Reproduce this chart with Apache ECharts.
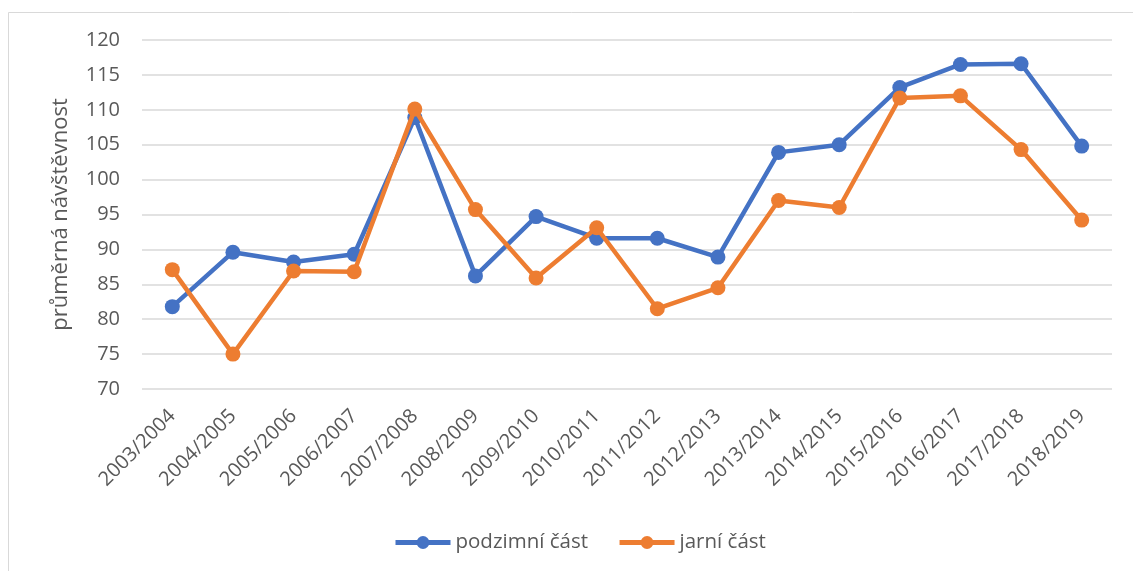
<!DOCTYPE html>
<html>
<head>
<meta charset="utf-8">
<script src="https://cdn.jsdelivr.net/npm/echarts@6/dist/echarts.min.js"></script>
<style>
  html, body { margin: 0; padding: 0; background: #fff; }
  #chart { width: 1133px; height: 571px; }
</style>
</head>
<body>
<div id="chart"></div>
<script>
// sezóny
var seasons = ['2003/2004', '2004/2005', '2005/2006', '2006/2007', '2007/2008', '2008/2009',
    '2009/2010', '2010/2011', '2011/2012', '2012/2013', '2013/2014', '2014/2015',
    '2015/2016', '2016/2017', '2017/2018', '2018/2019'];
// podzimní část
var autumn = [81.8, 89.6, 88.2, 89.3, 108.9, 86.2, 94.7, 91.6, 91.6, 88.9, 103.9, 105.0, 113.2, 116.5, 116.6, 104.8];
// jarní část
var spring = [87.1, 75.0, 86.9, 86.8, 110.1, 95.7, 85.9, 93.1, 81.5, 84.5, 97.0, 96.0, 111.7, 112.0, 104.3, 94.2];

(function() {
    var myChart = echarts.init(document.getElementById('chart'));
    var font = '"Open Sans", sans-serif';
    var option = {
        backgroundColor: '#fff',
        textStyle: { fontFamily: font },
        graphic: [{
            type: 'rect',
            shape: { x: 8.5, y: 12.5, width: 1200, height: 600 },
            style: { fill: 'none', stroke: '#d9d9d9', lineWidth: 1 },
            silent: true
        }],
        grid: {
            top: 40,
            left: 142,
            right: 21,
            bottom: 182
        },
        legend: {
            bottom: 13,
            left: 388,
            itemWidth: 55,
            itemHeight: 16,
            itemGap: 29,
            lineStyle: { width: 5 },
            textStyle: { color: '#595959', fontSize: 20.5, fontFamily: font },
            data: ['podzimní část', 'jarní část']
        },
        xAxis: {
            type: 'category',
            data: seasons,
            boundaryGap: true,
            axisLine: { show: false },
            axisTick: { show: false },
            axisLabel: {
                rotate: 45,
                interval: 0,
                margin: 24,
                color: '#595959',
                fontSize: 20,
                fontFamily: font
            }
        },
        yAxis: {
            type: 'value',
            min: 70,
            max: 120,
            interval: 5,
            name: 'průměrná návštěvnost',
            nameLocation: 'middle',
            nameGap: 70,
            nameTextStyle: { color: '#595959', fontSize: 22, fontFamily: font },
            axisLine: { show: false },
            axisTick: { show: false },
            axisLabel: { color: '#595959', fontSize: 20, margin: 22, fontFamily: font },
            splitLine: { lineStyle: { color: '#d9d9d9', width: 1.5 } }
        },
        series: [{
            name: 'podzimní část',
            type: 'line',
            data: autumn,
            symbol: 'circle',
            symbolSize: 15,
            lineStyle: { width: 4.5, color: '#4472C4' },
            itemStyle: { color: '#4472C4' },
            z: 2
        }, {
            name: 'jarní část',
            type: 'line',
            data: spring,
            symbol: 'circle',
            symbolSize: 15,
            lineStyle: { width: 4.5, color: '#ED7D31' },
            itemStyle: { color: '#ED7D31' },
            z: 3
        }]
    };
    myChart.setOption(option);
})();
</script>
</body>
</html>
